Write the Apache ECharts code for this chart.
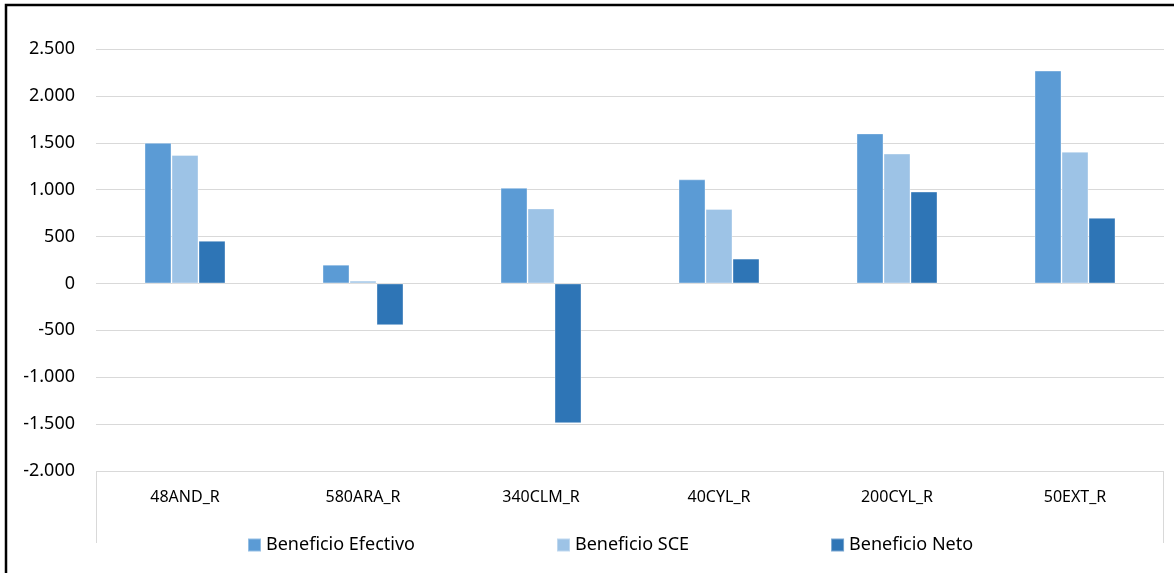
<!DOCTYPE html>
<html>
<head>
<meta charset="utf-8">
<script src="https://cdn.jsdelivr.net/npm/echarts@6/dist/echarts.min.js"></script>
<style>
html,body{margin:0;padding:0;background:#fff;}
#chart{width:1174px;height:573px;}
</style>
</head>
<body>
<div id="chart"></div>
<script>
var categories = ['48AND_R', '580ARA_R', '340CLM_R', '40CYL_R', '200CYL_R', '50EXT_R'];
var beneficioEfectivo = [1500, 200, 1020, 1110, 1600, 2270];
var beneficioSCE = [1370, 30, 800, 795, 1385, 1405];
var beneficioNeto = [455, -445, -1490, 265, 980, 700];
var seriesNames = ['Beneficio Efectivo', 'Beneficio SCE', 'Beneficio Neto'];
var yTicks = {min: -2000, max: 2500, interval: 500};

var FONT = 'Noto Sans';
var chart = echarts.init(document.getElementById('chart'));

function fmt(v) {
  var s = Math.abs(v).toString().replace(/\B(?=(\d{3})+(?!\d))/g, '.');
  return (v < 0 ? '-' : '') + s;
}

function mkSeries(name, data, color) {
  return {
    name: name,
    type: 'bar',
    data: data,
    barWidth: 27,
    barGap: '0%',
    itemStyle: {color: color, borderColor: 'rgba(255,255,255,0.35)', borderWidth: 1},
    emphasis: {disabled: true},
    animation: false
  };
}

chart.setOption({
  animation: false,
  color: ['#5B9BD5', '#9DC3E6', '#2E75B6'],
  textStyle: {fontFamily: FONT},
  grid: {left: 96, right: 10, top: 49, bottom: 102, containLabel: false},
  legend: {
    data: seriesNames,
    left: 247,
    top: 536,
    padding: 0,
    itemWidth: 13,
    itemHeight: 13,
    itemGap: 141,
    icon: 'rect',
    textStyle: {fontFamily: FONT, fontSize: 18, color: '#000'}
  },
  xAxis: {
    type: 'category',
    data: categories,
    axisLine: {show: false},
    axisTick: {show: false},
    axisLabel: {fontFamily: FONT, fontSize: 16, color: '#000', margin: 18}
  },
  yAxis: {
    type: 'value',
    min: yTicks.min,
    max: yTicks.max,
    interval: yTicks.interval,
    axisLine: {show: false},
    axisTick: {show: false},
    splitLine: {lineStyle: {color: '#D9D9D9', width: 1}},
    axisLabel: {fontFamily: FONT, fontSize: 18, color: '#000', margin: 21, formatter: fmt}
  },
  series: [
    mkSeries(seriesNames[0], beneficioEfectivo, '#5B9BD5'),
    mkSeries(seriesNames[1], beneficioSCE, '#9DC3E6'),
    mkSeries(seriesNames[2], beneficioNeto, '#2E75B6')
  ]
});

// decorative frame lines below the category axis and chart border
var step = chart.convertToPixel({xAxisIndex: 0}, categories[1]) - chart.convertToPixel({xAxisIndex: 0}, categories[0]);
var left = chart.convertToPixel({xAxisIndex: 0}, categories[0]) - step / 2;
var right = left + step * categories.length;
var bottomY = chart.convertToPixel({yAxisIndex: 0}, yTicks.min);
chart.setOption({
  graphic: [
    {type: 'line', shape: {x1: left + 0.5, y1: bottomY, x2: left + 0.5, y2: bottomY + 72}, style: {stroke: '#D9D9D9', lineWidth: 1}, silent: true},
    {type: 'line', shape: {x1: right - 0.5, y1: bottomY, x2: right - 0.5, y2: bottomY + 72}, style: {stroke: '#D9D9D9', lineWidth: 1}, silent: true},
    {type: 'rect', shape: {x: 6, y: 5, width: 1300, height: 700}, style: {fill: 'none', stroke: '#000', lineWidth: 2.5}, silent: true}
  ]
});
</script>
</body>
</html>
